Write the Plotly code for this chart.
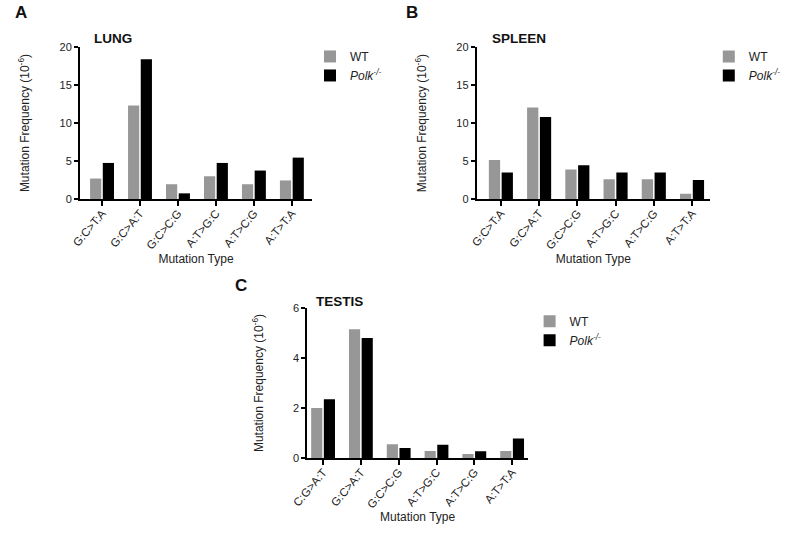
import plotly.graph_objects as go

# mutation types
types_ab = ["G:C>T:A", "G:C>A:T", "G:C>C:G", "A:T>G:C", "A:T>C:G", "A:T>T:A"]
types_c = ["C:G>A:T", "G:C>A:T", "G:C>C:G", "A:T>G:C", "A:T>C:G", "A:T>T:A"]

# mutation frequency (10^-6)
lung_wt = [2.7, 12.3, 1.95, 3.0, 1.95, 2.45]
lung_polk = [4.75, 18.4, 0.75, 4.75, 3.75, 5.45]
spleen_wt = [5.15, 12.05, 3.9, 2.6, 2.6, 0.7]
spleen_polk = [3.5, 10.8, 4.45, 3.5, 3.5, 2.5]
testis_wt = [2.0, 5.15, 0.55, 0.28, 0.16, 0.28]
testis_polk = [2.35, 4.8, 0.4, 0.53, 0.27, 0.78]

GREY = "#979797"
FONT = "Liberation Sans, Arial, sans-serif"
polk_name = "<i>Polk<sup>-/-</sup></i>"

fig = go.Figure()

panels = [
    ("x", "y", "legend", types_ab, lung_wt, lung_polk),
    ("x2", "y2", "legend2", types_ab, spleen_wt, spleen_polk),
    ("x3", "y3", "legend3", types_c, testis_wt, testis_polk),
]
for xa, ya, lg, cats, wt, polk in panels:
    idx = list(range(len(cats)))
    fig.add_trace(go.Bar(x=idx, y=wt, name="WT", marker_color=GREY,
                         marker_line_width=0, xaxis=xa, yaxis=ya, legend=lg))
    fig.add_trace(go.Bar(x=idx, y=polk, name=polk_name, marker_color="black",
                         marker_line_width=0, xaxis=xa, yaxis=ya, legend=lg))

xcommon = dict(showgrid=False, zeroline=False, showline=True, linecolor="black",
               linewidth=2, ticks="outside", ticklen=5, tickwidth=2, tickcolor="black",
               tickangle=-50, tickmode="array", tickvals=list(range(6)),
               tickfont=dict(size=11.5, color="#222"), automargin=False,
               ticklabelstandoff=-4,
               title=dict(text="Mutation Type", font=dict(size=12, color="#222"), standoff=0))
ycommon = dict(showgrid=False, zeroline=False, showline=True, linecolor="black",
               linewidth=2, ticks="outside", ticklen=4, tickwidth=2, tickcolor="black",
               tickfont=dict(size=11, color="#222"), automargin=False,
               title=dict(text="Mutation Frequency (10<sup>-6</sup>)",
                          font=dict(size=12, color="#222"), standoff=27))

top_lo, top_hi = 0.630, 0.9126
fig.update_layout(
    xaxis=dict(xcommon, domain=[0.100, 0.390], range=[-0.58, 5.53], anchor="y",
               ticktext=types_ab),
    yaxis=dict(ycommon, domain=[top_lo, top_hi], range=[0, 20], anchor="x",
               tickvals=[0, 5, 10, 15, 20]),
    xaxis2=dict(xcommon, domain=[0.596, 0.8875], range=[-0.63, 5.47], anchor="y2",
                ticktext=types_ab),
    yaxis2=dict(ycommon, domain=[top_lo, top_hi], range=[0, 20], anchor="x2",
                tickvals=[0, 5, 10, 15, 20]),
    xaxis3=dict(xcommon, domain=[0.384, 0.660], range=[-0.42, 5.42], anchor="y3",
                ticktext=types_c),
    yaxis3=dict(ycommon, domain=[0.1487, 0.4275], range=[0, 6], anchor="x3",
                tickvals=[0, 2, 4, 6]),
    barmode="group", bargap=0.33, bargroupgap=0.12,
    width=800, height=538, margin=dict(l=0, r=0, t=0, b=0),
    paper_bgcolor="white", plot_bgcolor="white",
    font=dict(family=FONT, color="#222"),
)

legend_style = dict(font=dict(size=12, color="#222"), bgcolor="rgba(0,0,0,0)",
                    xanchor="left", yanchor="top", tracegroupgap=0, itemwidth=30)
fig.update_layout(
    legend=dict(legend_style, x=0.3875, y=0.922),
    legend2=dict(legend_style, x=0.886, y=0.922),
    legend3=dict(legend_style, x=0.662, y=0.43),
)

# panel letters and tissue titles
for txt, x, y in [("A", 0.016, 0.976), ("B", 0.505, 0.976), ("C", 0.2915, 0.470)]:
    fig.add_annotation(text="<b>%s</b>" % txt, x=x, y=y, xref="paper", yref="paper",
                       xanchor="left", yanchor="middle", showarrow=False,
                       font=dict(size=17, color="#111"))
for txt, x, y in [("LUNG", 0.115, 0.929), ("SPLEEN", 0.612, 0.929), ("TESTIS", 0.393, 0.439)]:
    fig.add_annotation(text="<b>%s</b>" % txt, x=x, y=y, xref="paper", yref="paper",
                       xanchor="left", yanchor="middle", showarrow=False,
                       font=dict(size=13.5, color="#111"))

# the page body has a default 8px margin; drop it so the figure fills the window
fig.write_html("out.html", config={"displayModeBar": False},
               post_script="document.body.style.margin='0';")
